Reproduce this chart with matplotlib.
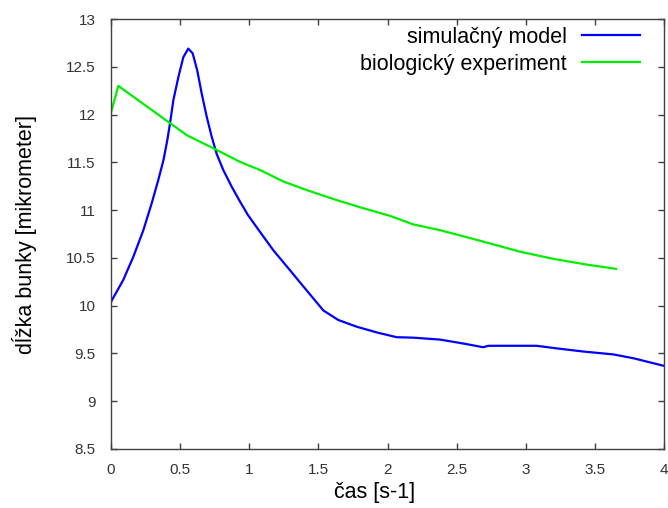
# dĺžka bunky - simulácia vs. experiment

import matplotlib
matplotlib.use('Agg')
import matplotlib.pyplot as plt

# simulačný model
sim_x = [0.0, 0.089, 0.161, 0.234, 0.294, 0.342, 0.379, 0.407, 0.427, 0.451,
         0.487, 0.523, 0.559, 0.591, 0.624, 0.656, 0.692, 0.728, 0.764, 0.812,
         0.873, 0.933, 0.99, 1.054, 1.174, 1.295, 1.415, 1.536, 1.644, 1.777,
         1.922, 2.066, 2.187, 2.38, 2.524, 2.693, 2.729, 3.079, 3.224, 3.416,
         3.633, 3.778, 4.0]
sim_y = [10.04, 10.27, 10.51, 10.79, 11.07, 11.315, 11.52, 11.73, 11.91, 12.15,
         12.39, 12.60, 12.69, 12.64, 12.46, 12.22, 11.98, 11.77, 11.59, 11.42,
         11.245, 11.09, 10.95, 10.82, 10.58, 10.37, 10.16, 9.95, 9.85, 9.78,
         9.72, 9.67, 9.665, 9.645, 9.61, 9.565, 9.58, 9.58, 9.553, 9.52,
         9.49, 9.45, 9.37]

# biologický experiment
bio_x = [0.0, 0.053, 0.547, 0.764, 0.933, 1.078, 1.246, 1.415, 1.632, 1.801,
         2.018, 2.187, 2.38, 2.669, 2.958, 3.199, 3.441, 3.653]
bio_y = [12.02, 12.30, 11.785, 11.63, 11.505, 11.42, 11.30, 11.21, 11.105, 11.03,
         10.94, 10.85, 10.79, 10.68, 10.565, 10.49, 10.43, 10.385]

x_ticks = [0, 0.5, 1, 1.5, 2, 2.5, 3, 3.5, 4]
x_labels = ['0', '0.5', '1', '1.5', '2', '2.5', '3', '3.5', '4']
y_ticks = [8.5, 9, 9.5, 10, 10.5, 11, 11.5, 12, 12.5, 13]
y_labels = ['8.5', '9', '9.5', '10', '10.5', '11', '11.5', '12', '12.5', '13']

plt.rcParams['font.family'] = ['Liberation Sans', 'DejaVu Sans']

fig = plt.figure(figsize=(6.68, 5.08), dpi=100)
ax = fig.add_axes([111 / 668, 1 - 449 / 508, 553 / 668, 430 / 508])

ax.plot(sim_x, sim_y, color='#0000ff', lw=1.6, label='simulačný model')
ax.plot(bio_x, bio_y, color='#00ee00', lw=1.6, label='biologický experiment')

ax.set_xlim(0, 4)
ax.set_ylim(8.5, 13)
ax.set_xticks(x_ticks)
ax.set_xticklabels(x_labels)
ax.set_yticks(y_ticks)
ax.set_yticklabels(y_labels)
ax.tick_params(direction='in', length=4, width=1, color='#404040',
               top=True, right=True, labelsize=11, labelcolor='#333333')
ax.tick_params(axis='x', pad=10)
ax.tick_params(axis='y', pad=11)
for s in ax.spines.values():
    s.set_color('#404040')
    s.set_linewidth(1)

ax.set_xlabel('čas [s-1]', fontsize=15.5, va='center')
ax.xaxis.set_label_coords(0.476, -0.102)
ax.set_ylabel('dĺžka bunky [mikrometer]', fontsize=15.5, va='center')
ax.yaxis.set_label_coords(-0.157, 0.498)

ax.legend(loc='upper right', bbox_to_anchor=(1 - 24 / 553, 1 - 8 / 430),
          frameon=False, markerfirst=False, fontsize=15.5,
          handlelength=2.7, handletextpad=0.7, labelspacing=0.27,
          borderaxespad=0, borderpad=0)

fig.savefig('out.png', dpi=100)
